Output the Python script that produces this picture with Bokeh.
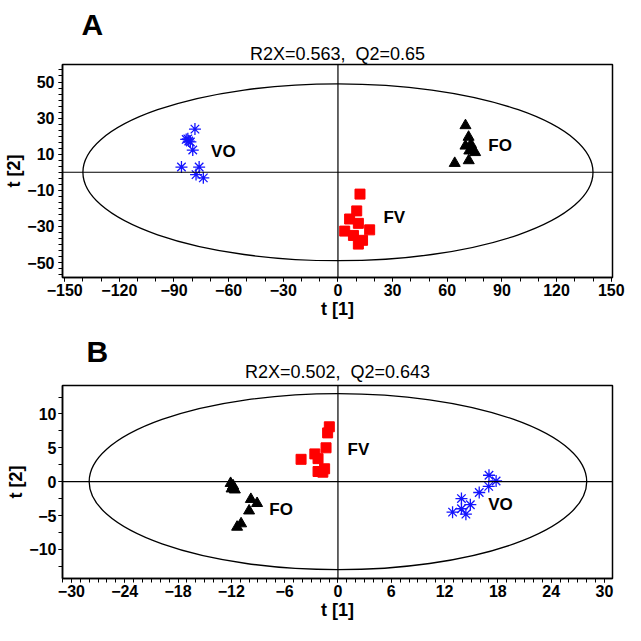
from bokeh.plotting import figure
from bokeh.models import Span, Title, FixedTicker, Range1d
from bokeh.layouts import column
from bokeh.embed import file_html
from bokeh.resources import INLINE
from bokeh.core.properties import value

FONT = "Liberation Sans"

# ---------------- Panel A data ----------------
A_title = "R2X=0.563,\u00a0 Q2=0.65"
A_VO_x = [-78.5, -82.4, -81.0, -83.3, -81.9, -79.7, -85.9, -76.2, -77.9, -73.9]
A_VO_y = [23.9, 18.5, 16.8, 18.2, 17.3, 12.3, 2.9, 2.9, -1.3, -3.1]
A_FO_x = [70.0, 71.7, 70.0, 73.0, 73.9, 72.1, 75.3, 64.1, 71.8]
A_FO_y = [25.9, 19.5, 14.6, 15.5, 12.3, 11.9, 11.0, 5.0, 6.5]
A_FV_x = [12.1, 10.3, 6.4, 11.2, 3.7, 17.4, 8.5, 13.5, 11.2]
A_FV_y = [-12.1, -21.4, -25.9, -28.3, -32.6, -31.9, -35.0, -37.7, -39.8]
A_group_names = ["VO", "FO", "FV"]
A_group_x = [-62.9, 89.0, 30.9]
A_group_y = [11.5, 14.6, -25.0]
A_ellipse_a = 140.0
A_ellipse_b = 49.0
A_xticks = [-150, -120, -90, -60, -30, 0, 30, 60, 90, 120, 150]
A_yticks = [-50, -30, -10, 10, 30, 50]

# ---------------- Panel B data ----------------
B_title = "R2X=0.502,\u00a0 Q2=0.643"
B_FO_x = [-12.08, -11.97, -11.6, -11.8, -9.8, -9.1, -10.0, -10.9, -11.35]
B_FO_y = [-0.24, -1.05, -1.2, -0.6, -2.6, -3.2, -4.3, -6.2, -6.7]
B_FV_x = [-0.97, -1.16, -1.34, -4.15, -2.6, -2.24, -2.24, -1.5, -1.7]
B_FV_y = [8.1, 7.2, 5.0, 3.3, 4.1, 3.4, 1.5, 1.9, 1.4]
B_VO_x = [17.0, 17.8, 16.97, 15.9, 13.9, 14.9, 13.9, 12.9, 14.4]
B_VO_y = [0.95, 0.1, -0.7, -1.6, -2.5, -3.4, -4.0, -4.5, -4.8]
B_group_names = ["FO", "FV", "VO"]
B_group_x = [-6.4, 2.3, 18.3]
B_group_y = [-4.05, 4.75, -3.3]
B_ellipse_a = 28.0
B_ellipse_b = 13.0
B_xticks = [-30, -24, -18, -12, -6, 0, 6, 12, 18, 24, 30]
B_yticks = [-10, -5, 0, 5, 10]

BLUE = "#1414FF"
RED = "#FF0000"
BLACK = "#000000"


def style_axes(p, xticks, xminor, yticks, yminor, ylab_standoff):
    p.grid.visible = False
    p.outline_line_color = "black"
    p.outline_line_width = 1.5
    p.xaxis.ticker = FixedTicker(ticks=xticks, minor_ticks=xminor)
    p.yaxis.ticker = FixedTicker(ticks=yticks, minor_ticks=yminor)
    for ax in (p.xaxis, p.yaxis):
        ax.axis_line_color = "black"
        ax.axis_line_width = 1.5
        ax.major_tick_in = 0
        ax.major_tick_out = 4
        ax.minor_tick_in = 0
        ax.minor_tick_out = 4
        ax.major_tick_line_color = "black"
        ax.minor_tick_line_color = "black"
        ax.major_tick_line_width = 1
        ax.minor_tick_line_width = 1
        ax.major_label_text_font = FONT
        ax.major_label_text_font_style = "bold"
        ax.major_label_text_font_size = "16px"
        ax.major_label_text_color = "black"
        ax.axis_label_text_font = FONT
        ax.axis_label_text_font_style = "bold"
        ax.axis_label_text_font_size = "18px"
        ax.axis_label_text_color = "black"
    p.xaxis.axis_label = "t [1]"
    p.yaxis.axis_label = "t [2]"
    p.xaxis.major_label_standoff = 2
    p.xaxis.axis_label_standoff = 0
    p.yaxis.major_label_standoff = ylab_standoff
    p.yaxis.axis_label_standoff = 0


def frange(a, b, step):
    out = []
    v = a
    while v <= b + 1e-9:
        out.append(round(v, 6))
        v += step
    return out


def panel(xr, yr, width, height, borders, xticks, xminor, yticks, yminor, ylab_standoff,
          ell_a, ell_b, series, names, gx, gy, title, letter, letter_offset,
          title_standoff, letter_standoff):
    bl, br, bt, bb = borders
    p = figure(width=width, height=height, x_range=Range1d(*xr), y_range=Range1d(*yr),
               output_backend="svg", toolbar_location=None,
               min_border_left=bl, min_border_right=br, min_border_top=bt, min_border_bottom=bb,
               background_fill_color="white", border_fill_color="white")
    style_axes(p, xticks, xminor, yticks, yminor, ylab_standoff)
    p.add_layout(Span(location=0, dimension="width", line_color="black", line_width=1.2))
    p.add_layout(Span(location=0, dimension="height", line_color="black", line_width=1.2))
    p.ellipse(x=[0], y=[0], width=[2 * ell_a], height=[2 * ell_b],
              fill_color=None, line_color="black", line_width=1.3)
    for kind, xs, ys in series:
        if kind == "VO":
            p.scatter(xs, ys, marker="asterisk", size=12, line_color=BLUE, line_width=1.3)
        elif kind == "FO":
            p.scatter(xs, ys, marker="triangle", size=11, fill_color=BLACK, line_color=BLACK)
        else:
            p.scatter(xs, ys, marker="square", size=10, fill_color=RED, line_color=RED)
    p.text(x=gx, y=gy, text=names, text_font=value(FONT), text_font_style="bold",
           text_font_size="17px", text_align="center", text_baseline="middle", text_color="black")
    p.title.text = letter
    p.title.align = "left"
    p.title.offset = letter_offset
    p.title.text_font = FONT
    p.title.text_font_size = "30px"
    p.title.text_font_style = "bold"
    p.title.text_color = "black"
    p.title.standoff = letter_standoff
    p.add_layout(Title(text=title, align="center", standoff=title_standoff,
                       text_font=FONT, text_font_size="18px", text_font_style="normal",
                       text_color="black"), "above")
    return p


pA = panel((-151.2, 150.7), (-58.3, 59.7), 625, 323, (62, 13, 64, 46),
           A_xticks, frange(-150, 150, 10), A_yticks, frange(-56.67, 56.67, 20 / 6), 4,
           A_ellipse_a, A_ellipse_b,
           [("VO", A_VO_x, A_VO_y), ("FO", A_FO_x, A_FO_y), ("FV", A_FV_x, A_FV_y)],
           A_group_names, A_group_x, A_group_y, A_title, "A", 19, 2, 0)

pB = panel((-31.0, 30.9), (-14.3, 14.2), 625, 301, (58, 8, 62, 46),
           B_xticks, frange(-31, 30, 1), B_yticks, frange(-12.5, 12.5, 2.5), 2,
           B_ellipse_a, B_ellipse_b,
           [("FO", B_FO_x, B_FO_y), ("FV", B_FV_x, B_FV_y), ("VO", B_VO_x, B_VO_y)],
           B_group_names, B_group_x, B_group_y, B_title, "B", 24, 8, -24)

layout = column(pA, pB, spacing=0)
open("out.html", "w").write(file_html(layout, INLINE))
